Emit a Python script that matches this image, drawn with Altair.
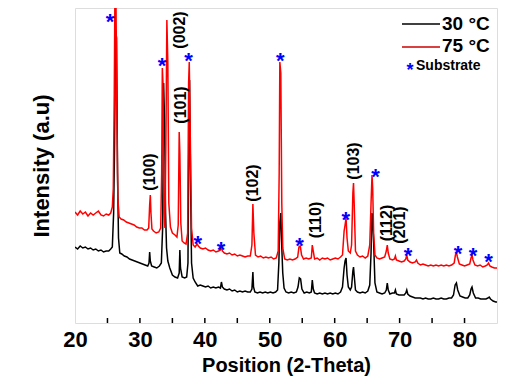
import altair as alt
import pandas as pd

# ---- data (x = 2-theta, y = relative intensity, arbitrary units) ----
black_trace = [(20.0,76),(20.4,74),(20.8,77),(21.2,75),(21.6,76),(22.0,74),(22.4,75),(22.8,73),(23.2,74),(23.6,72),(24.0,73),(24.4,71),(24.8,72),(25.2,72),(25.5,74),(25.75,76),(25.95,110),(26.1,180),(26.25,294),(26.4,285),(26.55,150),(26.7,85),(26.9,70),(27.2,69),(27.6,67),(28.0,66),(28.4,64),(28.8,63),(29.2,62),(29.6,61),(30.0,60),(30.4,59),(30.8,58),(31.2,57),(31.4,60),(31.5,71),(31.6,62),(31.8,57),(32.2,56),(32.6,55),(33.0,57),(33.3,60),(33.5,95),(33.65,240),(33.8,200),(33.95,110),(34.1,75),(34.3,62),(34.6,55),(35.0,48),(35.4,46),(35.8,45),(36.05,50),(36.15,73),(36.25,55),(36.5,46),(36.9,45),(37.2,46),(37.4,60),(37.55,200),(37.65,243),(37.8,140),(37.95,60),(38.2,45),(38.5,41),(38.9,37),(39.3,38),(39.7,37),(40.1,36),(40.5,37),(40.9,35),(41.3,36),(41.7,35),(42.1,36),(42.4,35),(42.55,41),(42.7,36),(43.0,34),(43.4,33),(43.8,34),(44.2,32),(44.6,33),(45.0,31),(45.4,32),(45.8,31),(46.2,32),(46.6,31),(47.0,31),(47.25,34),(47.4,51),(47.5,36),(47.7,31),(48.1,30),(48.5,31),(48.9,30),(49.3,31),(49.7,30),(50.1,31),(50.5,30),(50.9,31),(51.2,33),(51.4,60),(51.55,100),(51.7,110),(51.85,76),(52.0,50),(52.2,35),(52.5,31),(52.9,30),(53.3,31),(53.7,30),(54.1,31),(54.35,36),(54.55,45),(54.75,44),(54.95,34),(55.3,30),(55.7,31),(56.1,30),(56.4,31),(56.55,43),(56.7,34),(56.9,30),(57.3,29),(57.7,30),(58.1,29),(58.5,30),(58.9,29),(59.3,30),(59.7,29),(60.1,30),(60.5,29),(60.9,31),(61.2,36),(61.45,55),(61.6,62),(61.75,65),(61.9,48),(62.1,36),(62.4,33),(62.6,36),(62.8,52),(62.9,56),(63.0,48),(63.2,33),(63.5,31),(63.9,30),(64.3,31),(64.7,30),(65.1,32),(65.4,38),(65.6,70),(65.75,110),(65.85,106),(66.0,80),(66.2,40),(66.5,31),(66.9,30),(67.3,29),(67.7,30),(67.95,33),(68.1,40),(68.25,33),(68.5,29),(68.9,30),(69.2,30),(69.35,33),(69.5,29),(69.9,28),(70.3,28),(70.7,28),(70.95,30),(71.1,33),(71.25,29),(71.6,27),(72.0,26),(72.4,25),(72.8,25),(73.2,25),(73.6,24),(74.0,25),(74.4,24),(74.8,24),(75.2,25),(75.6,24),(76.0,24),(76.4,25),(76.8,24),(77.2,24),(77.6,25),(78.0,25),(78.3,28),(78.55,38),(78.75,40),(78.95,33),(79.3,27),(79.7,26),(80.1,25),(80.5,25),(80.8,28),(81.0,34),(81.15,36),(81.35,30),(81.7,25),(82.1,25),(82.5,24),(82.9,24),(83.3,24),(83.6,25),(83.8,26),(84.0,24),(84.4,22),(84.8,21),(85.0,21)]

red_trace = [(20.0,111),(20.4,108),(20.8,112),(21.2,109),(21.6,111),(22.0,107),(22.4,110),(22.8,108),(23.2,110),(23.6,112),(24.0,108),(24.4,107),(24.8,109),(25.2,108),(25.5,110),(25.75,116),(25.9,135),(26.05,230),(26.15,330),(26.3,330),(26.45,210),(26.6,125),(26.8,106),(27.1,104),(27.5,103),(27.9,101),(28.3,100),(28.7,99),(29.1,98),(29.5,96),(29.9,95),(30.3,95),(30.7,93),(31.1,93),(31.35,95),(31.5,118),(31.6,128),(31.7,110),(31.85,94),(32.1,92),(32.5,90),(32.9,91),(33.2,95),(33.35,150),(33.45,255),(33.55,240),(33.7,110),(33.85,95),(34.0,180),(34.15,303),(34.3,260),(34.45,120),(34.7,96),(35.0,90),(35.4,88),(35.7,86),(35.9,98),(36.05,191),(36.15,170),(36.3,100),(36.5,82),(36.8,80),(37.1,79),(37.35,90),(37.5,240),(37.6,261),(37.75,190),(37.95,95),(38.2,78),(38.5,76),(38.8,79),(39.0,77),(39.3,75),(39.7,74),(40.1,75),(40.5,73),(40.9,72),(41.3,73),(41.7,71),(42.1,72),(42.4,73),(42.55,77),(42.7,72),(43.0,70),(43.4,69),(43.8,70),(44.2,68),(44.6,69),(45.0,67),(45.4,68),(45.8,67),(46.2,66),(46.6,67),(47.0,67),(47.25,78),(47.4,119),(47.55,90),(47.8,68),(48.2,66),(48.6,67),(49.0,65),(49.4,66),(49.8,65),(50.2,66),(50.6,64),(51.0,65),(51.3,72),(51.45,150),(51.55,261),(51.7,250),(51.85,120),(52.0,75),(52.3,64),(52.7,63),(53.1,64),(53.5,63),(53.9,64),(54.3,66),(54.5,76),(54.7,77),(54.9,68),(55.2,64),(55.6,65),(56.0,64),(56.4,65),(56.55,78),(56.7,72),(56.9,64),(57.3,65),(57.7,63),(58.1,65),(58.5,64),(58.9,65),(59.3,63),(59.7,64),(60.1,65),(60.5,64),(60.9,66),(61.2,68),(61.45,92),(61.6,98),(61.75,105),(61.9,85),(62.1,72),(62.4,70),(62.6,78),(62.8,130),(62.9,140),(63.0,120),(63.2,72),(63.5,68),(63.9,66),(64.3,67),(64.7,65),(65.1,67),(65.4,78),(65.6,120),(65.75,148),(65.85,135),(66.0,90),(66.2,68),(66.5,65),(66.9,64),(67.3,65),(67.7,66),(67.95,72),(68.1,78),(68.25,70),(68.5,64),(68.9,63),(69.2,64),(69.35,67),(69.5,63),(69.9,62),(70.3,61),(70.7,62),(70.95,64),(71.1,68),(71.25,63),(71.6,61),(72.0,60),(72.4,61),(72.6,63),(72.8,60),(73.2,58),(73.6,59),(74.0,58),(74.4,57),(74.8,58),(75.2,57),(75.6,58),(76.0,57),(76.4,58),(76.8,57),(77.2,58),(77.6,57),(78.0,58),(78.4,60),(78.6,68),(78.75,71),(78.9,66),(79.2,59),(79.6,58),(80.0,57),(80.4,58),(80.8,59),(81.0,65),(81.15,68),(81.3,63),(81.6,58),(82.0,57),(82.4,58),(82.8,56),(83.2,57),(83.5,58),(83.7,60),(83.9,57),(84.2,56),(84.6,55),(85.0,55)]

# substrate peak markers (x, y)
star_x = [25.4, 33.4, 37.5, 38.9, 42.5, 51.6, 54.6, 61.7, 66.3, 71.3, 79.0, 81.3, 83.7]
star_y = [307, 263, 268, 85, 79, 268, 83, 109, 152, 73, 75, 73, 67]

# hkl labels (x, y of label centre)
hkl_text = ["(100)", "(002)", "(101)", "(102)", "(110)", "(103)", "(112)", "(201)"]
hkl_x = [31.6, 36.2, 36.4, 47.4, 57.1, 63.0, 68.1, 70.1]
hkl_y = [151, 293, 218, 140, 103, 162, 100, 98]

x_labels = [20, 30, 40, 50, 60, 70, 80]
x_ticks = [25, 30, 35, 40, 45, 50, 55, 60, 65, 70, 75, 80]

series_names = ["30 \u00b0C", "75 \u00b0C"]
series_colors = ["#000000", "#ff0000"]
legend_sub = "Substrate"

FONT = "Liberation Sans"
W, H = 422, 315

black_df = pd.DataFrame(black_trace, columns=["x", "y"])
red_df = pd.DataFrame(red_trace, columns=["x", "y"])
star_df = pd.DataFrame({"x": star_x, "y": star_y, "t": ["*"] * len(star_x)})
hkl_df = pd.DataFrame({"x": hkl_x, "y": hkl_y, "t": hkl_text})
tick_df = pd.DataFrame({"x": x_ticks})

xscale = alt.Scale(domain=[20, 85], nice=False, zero=False)
yscale = alt.Scale(domain=[0, 315], nice=False, zero=False)

xenc = alt.X("x:Q", scale=xscale, axis=alt.Axis(
    title="Position (2-Theta)", values=x_labels, ticks=False, domain=False, grid=False,
    labelFontSize=22, labelFontWeight="bold", labelPadding=6, labelFont=FONT,
    titleFontSize=20, titleFontWeight="bold", titleFont=FONT, titlePadding=5, labelFlush=False))
yenc = alt.Y("y:Q", scale=yscale, axis=alt.Axis(
    title="Intensity (a.u)", labels=False, ticks=False, domain=False, grid=False,
    titleFontSize=22, titleFontWeight="bold", titleFont=FONT, titlePadding=22))

black_line = alt.Chart(black_df).mark_line(color=series_colors[0], strokeWidth=1.5, clip=True).encode(x=xenc, y=yenc)
red_line = alt.Chart(red_df).mark_line(color=series_colors[1], strokeWidth=1.5, clip=True).encode(x="x:Q", y="y:Q")

stars = alt.Chart(star_df).mark_text(color="#0000ff", font=FONT, fontWeight="bold", fontSize=22,
                                     baseline="alphabetic", dy=13).encode(x="x:Q", y="y:Q", text="t:N")
hkl = alt.Chart(hkl_df).mark_text(color="black", font=FONT, fontWeight="bold", fontSize=16, angle=270,
                                  align="center", baseline="middle").encode(x="x:Q", y="y:Q", text="t:N")
ticks = alt.Chart(tick_df).mark_rule(color="black", strokeWidth=1.5).encode(
    x="x:Q", y=alt.value(H), y2=alt.value(H - 5))

# legend (drawn inside the plot, top right)
leg_line1 = alt.Chart(pd.DataFrame({"a": [0]})).mark_rule(color=series_colors[0], strokeWidth=1.5).encode(
    x=alt.value(327), x2=alt.value(365), y=alt.value(16))
leg_line2 = alt.Chart(pd.DataFrame({"a": [0]})).mark_rule(color="#cc0000", strokeWidth=1.5).encode(
    x=alt.value(327), x2=alt.value(365), y=alt.value(39))
leg_t1 = alt.Chart(pd.DataFrame({"t": [series_names[0]]})).mark_text(
    font=FONT, fontWeight="bold", fontSize=19, align="left", baseline="middle").encode(
    x=alt.value(367), y=alt.value(16), text="t:N")
leg_t2 = alt.Chart(pd.DataFrame({"t": [series_names[1]]})).mark_text(
    font=FONT, fontWeight="bold", fontSize=19, align="left", baseline="middle").encode(
    x=alt.value(367), y=alt.value(38), text="t:N")
leg_star = alt.Chart(pd.DataFrame({"t": ["*"]})).mark_text(
    color="#0000ff", font=FONT, fontWeight="bold", fontSize=18, align="center", baseline="alphabetic", dy=11).encode(
    x=alt.value(335), y=alt.value(57), text="t:N")
leg_t3 = alt.Chart(pd.DataFrame({"t": [legend_sub]})).mark_text(
    font=FONT, fontWeight="bold", fontSize=14, align="left", baseline="middle").encode(
    x=alt.value(341), y=alt.value(58), text="t:N")

chart = alt.layer(black_line, red_line, ticks, stars, hkl,
                  leg_line1, leg_line2, leg_t1, leg_t2, leg_star, leg_t3).properties(
    width=W, height=H,
    padding={"left": 67, "top": 0, "right": 10, "bottom": 64},
    autosize=alt.AutoSizeParams(type="none"),
).configure_view(stroke="black", strokeWidth=2).configure(background="white")

chart.save("out.html", embed_options={"renderer": "svg", "actions": False})
